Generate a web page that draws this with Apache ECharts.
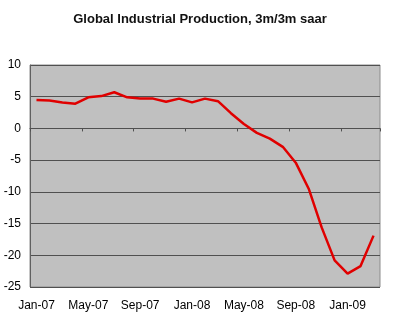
<!DOCTYPE html>
<html><head><meta charset="utf-8">
<script src="https://cdn.jsdelivr.net/npm/echarts@6/dist/echarts.min.js"></script>
<style>html,body{margin:0;padding:0;background:#fff}#c{width:400px;height:325px}</style>
</head><body><div id="c"></div>
<script>
var categories = ['Jan-07','Feb-07','Mar-07','Apr-07','May-07','Jun-07','Jul-07','Aug-07','Sep-07','Oct-07','Nov-07','Dec-07',
  'Jan-08','Feb-08','Mar-08','Apr-08','May-08','Jun-08','Jul-08','Aug-08','Sep-08','Oct-08','Nov-08','Dec-08',
  'Jan-09','Feb-09','Mar-09'];
var production = [4.5,4.4,4.1,3.9,4.9,5.1,5.7,4.9,4.7,4.7,4.2,4.7,
  4.1,4.7,4.3,2.4,0.7,-0.7,-1.6,-2.9,-5.4,-9.5,-15.6,-20.8,
  -22.9,-21.7,-16.9];
var yTicks = {min:-25, max:10, step:5};
var font = 'Arial, "Liberation Sans", sans-serif';
var chart = echarts.init(document.getElementById('c'));
chart.setOption({
  animation:false,
  title:{text:'Global Industrial Production, 3m/3m saar', left:'center', top:8,
    textStyle:{fontSize:13, fontWeight:'bold', color:'#111', fontFamily:font}},
  grid:{left:30, right:20, top:65, bottom:38, show:true, backgroundColor:'#c0c0c0', borderColor:'#8c8c8c', borderWidth:1},
  xAxis:[{
    type:'category', data:categories, boundaryGap:true, position:'bottom',
    axisLine:{show:false, onZero:false}, axisTick:{show:false},
    axisLabel:{interval:3, margin:13, fontSize:12, color:'#000', fontFamily:font}
  },{
    type:'category', data:categories, boundaryGap:true, position:'bottom',
    axisLine:{show:true, onZero:true, lineStyle:{color:'#505050', width:1}},
    axisTick:{show:true, interval:3, length:3, lineStyle:{color:'#505050'}},
    axisLabel:{show:false}, splitLine:{show:false}
  }],
  yAxis:{type:'value', min:yTicks.min, max:yTicks.max, interval:yTicks.step,
    axisLine:{show:true, lineStyle:{color:'#606060', width:1}}, axisTick:{show:false},
    axisLabel:{fontSize:12, color:'#000', fontFamily:font, margin:9},
    splitLine:{lineStyle:{color:'#505050', width:1}}},
  series:[{type:'line', data:production, xAxisIndex:0, symbol:'none',
    lineStyle:{color:'#e00000', width:2.5}}]
});
</script></body></html>
